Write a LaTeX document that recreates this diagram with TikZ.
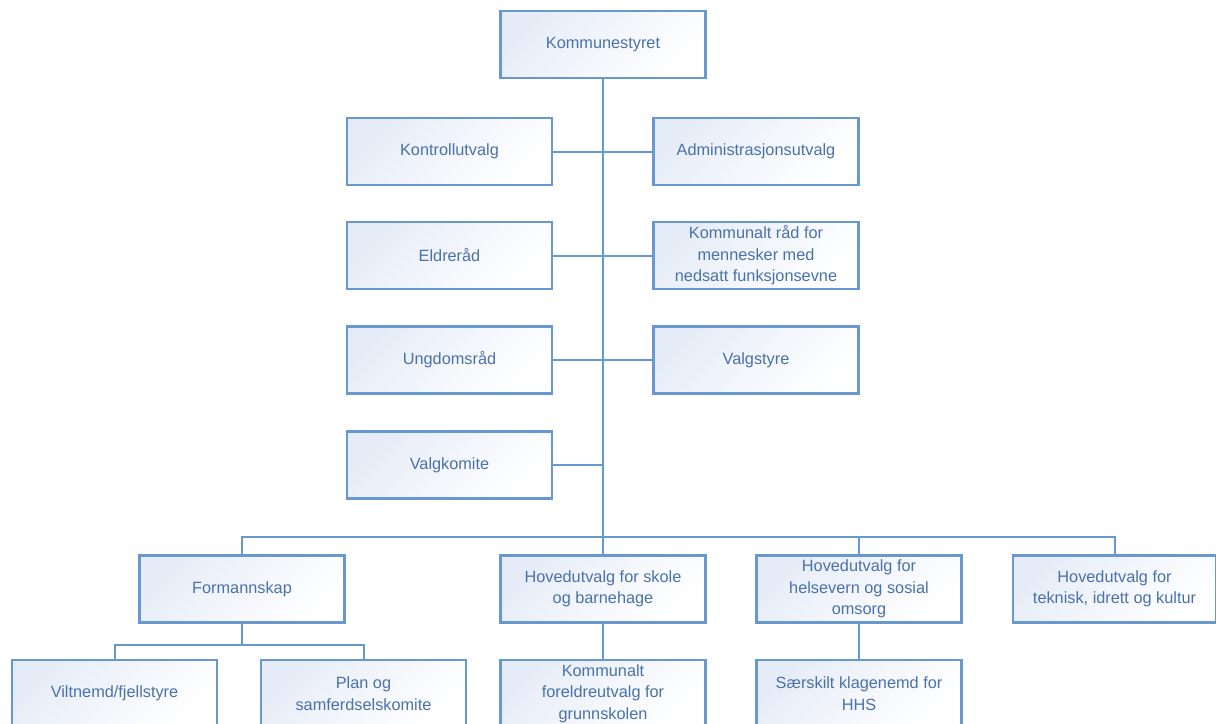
\documentclass[tikz,border=0pt]{standalone}
\usepackage{fontspec}
\setmainfont{Liberation Sans}
\definecolor{unitline}{RGB}{104,152,208}
\definecolor{unittext}{RGB}{74,114,170}
\definecolor{unittint}{RGB}{230,236,247}
\begin{document}
\begin{tikzpicture}[
    unit/.style={draw=unitline, line width=2.2bp, top color=unittint, bottom color=white,
      shading angle=45, minimum width=205bp, minimum height=67bp, inner sep=2bp,
      align=center, text=unittext, font=\fontsize{16.3bp}{21.5bp}\selectfont},
    link/.style={draw=unitline, line width=2bp}
  ]
  \useasboundingbox (0bp,0bp) rectangle (1216bp,-724bp);

  \node (KS) at (603bp,-44.5bp)   [unit] {Kommunestyret};
  \node (KU) at (449.5bp,-151.5bp) [unit] {Kontrollutvalg};
  \node (AU) at (756bp,-151.5bp)   [unit] {Administrasjonsutvalg};
  \node (ER) at (449.5bp,-255.5bp) [unit] {Eldreråd};
  \node (KR) at (756bp,-255.5bp)   [unit] {Kommunalt råd for\\mennesker med\\nedsatt funksjonsevne};
  \node (UR) at (449.5bp,-360bp)   [unit] {Ungdomsråd};
  \node (VS) at (756bp,-360bp)     [unit] {Valgstyre};
  \node (VK) at (449.5bp,-465bp)   [unit] {Valgkomite};

  \node (FS) at (242bp,-589bp)    [unit] {Formannskap};
  \node (HS) at (603bp,-589bp)    [unit] {Hovedutvalg for skole\\og barnehage};
  \node (HH) at (859bp,-589bp)    [unit] {Hovedutvalg for\\helsevern og sosial\\omsorg};
  \node (HT) at (1114.5bp,-589bp) [unit, minimum width=203bp] {Hovedutvalg for\\teknisk, idrett og kultur};

  \node (VN) at (114.5bp,-693.5bp) [unit] {Viltnemd/fjellstyre};
  \node (PS) at (363.5bp,-693.5bp) [unit] {Plan og\\samferdselskomite};
  \node (FU) at (603bp,-693.5bp)   [unit] {Kommunalt\\foreldreutvalg for\\grunnskolen};
  \node (SK) at (859bp,-693.5bp)   [unit] {Særskilt klagenemd for\\HHS};

  \coordinate (bus) at (603bp,-537bp);
  \coordinate (fbus) at (242bp,-645bp);

  \draw (KS) -- (bus) [link];
  \draw (KU) -- (AU) [link];
  \draw (ER) -- (KR) [link];
  \draw (UR) -- (VS) [link];
  \draw (VK) -- (VK -| bus) [link];

  \draw (FS) |- (bus) -| (HT) [link];
  \draw (HS) -- (HS |- bus) [link];
  \draw (HH) -- (HH |- bus) [link];

  \draw (FS) -- (fbus) [link];
  \draw (VN) |- (fbus) -| (PS) [link];
  \draw (HS) -- (FU) [link];
  \draw (HH) -- (SK) [link];
\end{tikzpicture}
\end{document}
